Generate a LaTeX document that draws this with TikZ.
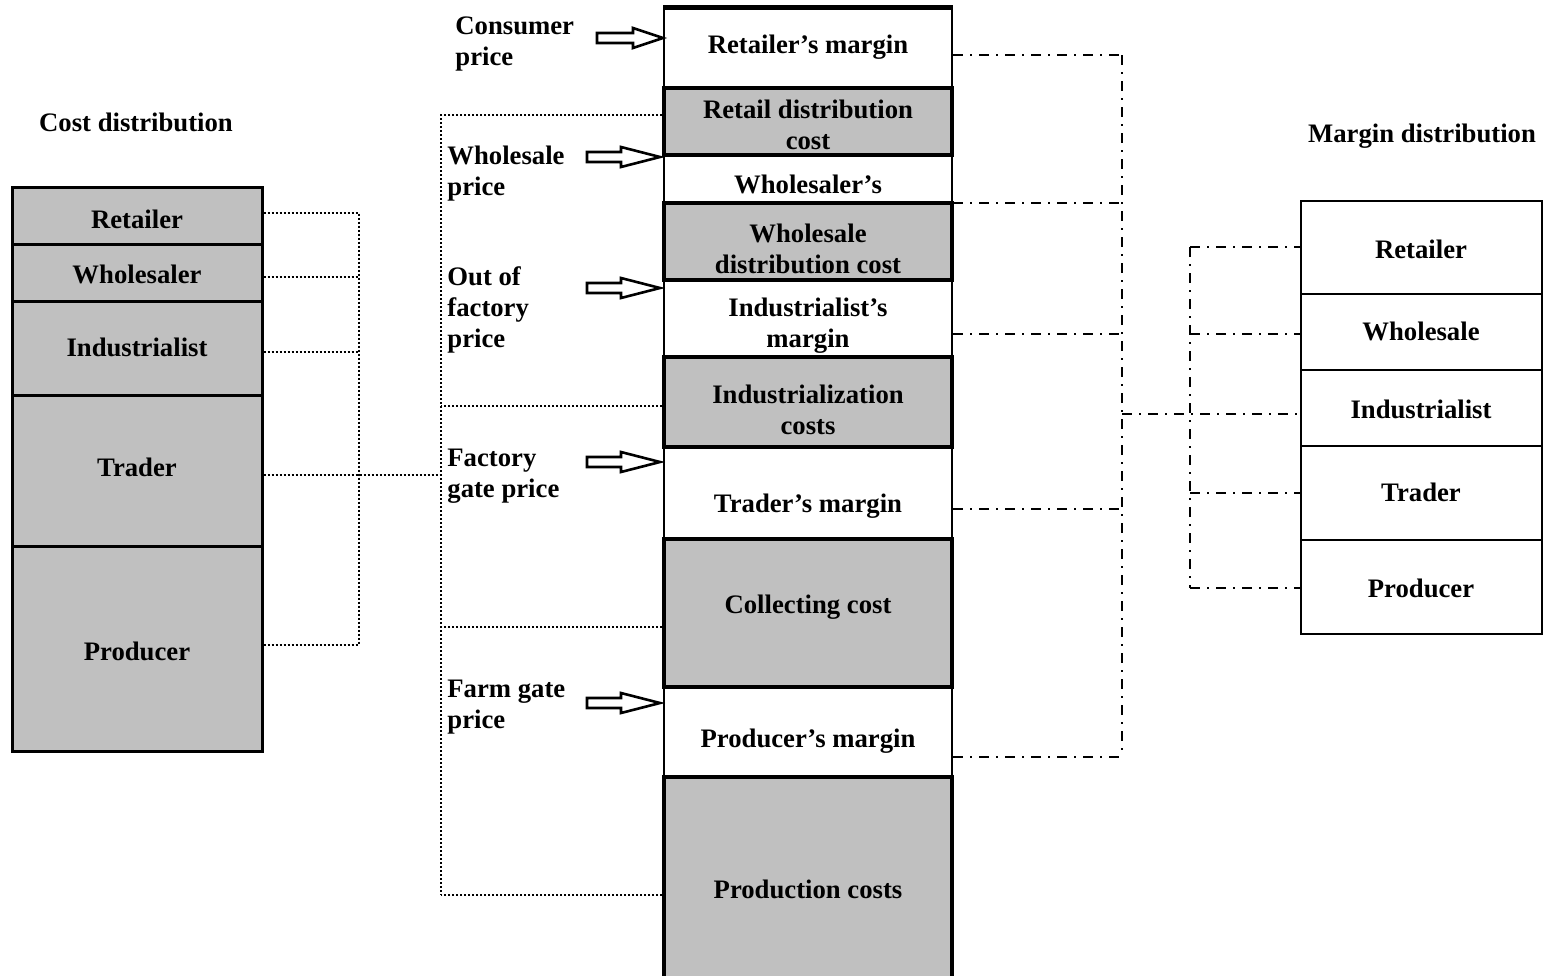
\documentclass[tikz,border=0pt]{standalone}
\usepackage{fontspec}
\setmainfont{Liberation Serif}
\usetikzlibrary{fit}
\definecolor{boxgray}{RGB}{192,192,192}
\newcommand\blockarr[4]{%
  \draw[blockarrow] (#1,{#4-5}) -- (#3,{#4-5}) -- (#3,{#4-10}) -- (#2,#4) -- (#3,{#4+10}) -- (#3,{#4+5}) -- (#1,{#4+5}) -- cycle;}
\begin{document}
\begin{tikzpicture}[x=0.5pt,y=-0.5pt,
  every node/.style={font=\bfseries\fontsize{13.35}{15.5}\selectfont, inner sep=0pt},
  costbox/.style={draw, fill=boxgray, line width=1.5pt},
  graybox/.style={draw, fill=boxgray, line width=2pt},
  whitebox/.style={draw, fill=white, line width=1pt},
  marginbox/.style={draw, fill=white, line width=1pt},
  dotline/.style={line width=1.4pt, dash pattern=on 1.1pt off 0.9pt},
  dashdot/.style={line width=1.3pt, dash pattern=on 5pt off 3.5pt on 1pt off 3.5pt},
  blockarrow/.style={draw, line width=1.3pt, fill=white, line join=miter},
  ctext/.style={align=center},
  ptext/.style={align=left, anchor=west},
]
\useasboundingbox (0,0) rectangle (1545,975);
\fill[white] (0,0) rectangle (1545,975);

% ---- titles
\node (tcost) at (136,122) {Cost distribution};
\node (tmargin) at (1422,136) {Margin distribution};

% ---- left cost boxes
\node[costbox, fit={(12,187) (262,244)}] (cr) {};
\node[costbox, fit={(12,244) (262,301)}] (cw) {};
\node[costbox, fit={(12,301) (262,395)}] (ci) {};
\node[costbox, fit={(12,395) (262,546)}] (ct) {};
\node[costbox, fit={(12,546) (262,751)}] (cp) {};
\node (lcr) at (137,219) {Retailer};
\node (lcw) at (137,274) {Wholesaler};
\node (lci) at (137,347) {Industrialist};
\node (lct) at (137,467) {Trader};
\node (lcp) at (137,651) {Producer};

% ---- central column: white boxes
\node[whitebox, fit={(664,8) (952,88)}] (rm) {};
\node[whitebox, fit={(664,155) (952,203)}] (ws) {};
\node[whitebox, fit={(664,280) (952,357)}] (im) {};
\node[whitebox, fit={(664,447) (952,539)}] (tm) {};
\node[whitebox, fit={(664,687) (952,777)}] (prm) {};
% gray boxes
\node[graybox, fit={(664,88) (952,155)}] (rdc) {};
\node[graybox, fit={(664,203) (952,280)}] (wdc) {};
\node[graybox, fit={(664,357) (952,447)}] (ic) {};
\node[graybox, fit={(664,539) (952,687)}] (cc) {};
\node[graybox, fit={(664,777) (952,1000)}] (pc) {};
\draw[line width=2.5pt] (rm.north west) -- (rm.north east);

% labels in the column
\node[ctext] (lrm) at (808,47) {Retailer’s margin};
\node[ctext] (lrdc) at (808,124.5) {Retail distribution\\cost};
\node[ctext] (lws) at (808,184) {Wholesaler’s};
\node[ctext] (lwdc) at (808,248.5) {Wholesale\\distribution cost};
\node[ctext] (lim) at (808,326) {Industrialist’s\\margin};
\node[ctext] (lic) at (808,409.5) {Industrialization\\costs};
\node[ctext] (ltm) at (808,506) {Trader’s margin};
\node[ctext] (lcc) at (808,607) {Collecting cost};
\node[ctext] (lprm) at (808,741) {Producer’s margin};
\node[ctext] (lpc) at (808,889) {Production costs};

% ---- price labels
\node[ptext] (pcons) at (455,44) {Consumer\\price};
\node[ptext] (pwhole) at (447,174) {Wholesale\\price};
\node[ptext] (pout) at (447,310) {Out of\\factory\\price};
\node[ptext] (pfact) at (447,476) {Factory\\gate price};
\node[ptext] (pfarm) at (447,707) {Farm gate\\price};

% ---- block arrows
\blockarr{597}{663}{633}{38}
\blockarr{587}{660}{621}{157}
\blockarr{587}{660}{621}{288}
\blockarr{587}{660}{621}{462}
\blockarr{587}{660}{621}{703}

% ---- right margin boxes
\node[marginbox, fit={(1301,201) (1542,294)}] (mr) {};
\node[marginbox, fit={(1301,294) (1542,370)}] (mw) {};
\node[marginbox, fit={(1301,370) (1542,446)}] (mi) {};
\node[marginbox, fit={(1301,446) (1542,540)}] (mt) {};
\node[marginbox, fit={(1301,540) (1542,634)}] (mp) {};
\node (lmr) at (1421,249) {Retailer};
\node (lmw) at (1421,331) {Wholesale};
\node (lmi) at (1421,409) {Industrialist};
\node (lmt) at (1421,492) {Trader};
\node (lmp) at (1421,588) {Producer};

% ---- dotted connectors (cost side)
\coordinate (lb1) at (359,213);
\coordinate (lb5) at (359,645);
\draw[dotline] (cr.east |- lb1) -- (lb1) -- (lb5);
\draw[dotline] (cp.east |- lb5) -- (lb5);
\draw[dotline] (cw.east |- 0,277) -- (359,277);
\draw[dotline] (ci.east |- 0,352) -- (359,352);
\coordinate (pbt) at (441,475);
\draw[dotline] (ct.east |- pbt) -- (pbt);

\coordinate (pb1) at (441,115);
\coordinate (pb2) at (441,406);
\coordinate (pb3) at (441,627);
\coordinate (pb4) at (441,895);
\draw[dotline] (rdc.west |- pb1) -- (pb1) -- (pb4);
\draw[dotline] (pc.west |- pb4) -- (pb4);
\draw[dotline] (ic.west |- pb2) -- (pb2);
\draw[dotline] (cc.west |- pb3) -- (pb3);

% ---- dash-dot connectors (margin side)
\coordinate (rb1) at (1122,55);
\coordinate (rb5) at (1122,757);
\coordinate (rbm) at (1122,414);
\draw[dashdot] (rm.east |- rb1) -- (rb1);
\draw[dashdot] (rb1) -- (rb5);
\draw[dashdot] (prm.east |- rb5) -- (rb5);
\draw[dashdot] (ws.east |- 0,203) -- (1122,203);
\draw[dashdot] (im.east |- 0,334) -- (1122,334);
\draw[dashdot] (tm.east |- 0,509) -- (1122,509);
\draw[dashdot] (rbm) -- (mi.west |- rbm);

\coordinate (mb1) at (1190,247);
\coordinate (mb5) at (1190,588);
\draw[dashdot] (mb1) -- (mb5);
\draw[dashdot] (mb1) -- (mr.west |- mb1);
\draw[dashdot] (mb5) -- (mp.west |- mb5);
\draw[dashdot] (1190,334) -- (mw.west |- 0,334);
\draw[dashdot] (1190,493) -- (mt.west |- 0,493);
\end{tikzpicture}
\end{document}
